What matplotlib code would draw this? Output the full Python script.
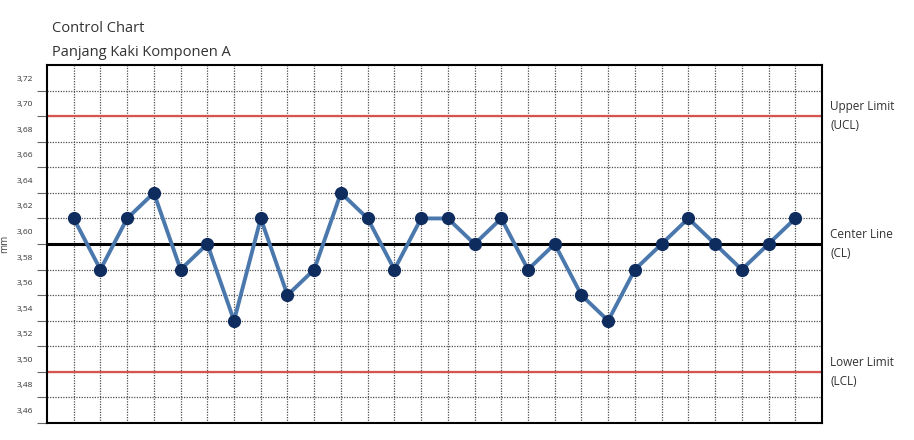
import matplotlib.pyplot as plt
import matplotlib.transforms as mtransforms

# sample values (mm)
samples = list(range(1, 29))
values = [3.62, 3.58, 3.62, 3.64, 3.58, 3.60, 3.54, 3.62, 3.56, 3.58,
          3.64, 3.62, 3.58, 3.62, 3.62, 3.60, 3.62, 3.58, 3.60, 3.56,
          3.54, 3.58, 3.60, 3.62, 3.60, 3.58, 3.60, 3.62]
ucl = 3.70
cl = 3.60
lcl = 3.50
yticks = [3.46, 3.48, 3.50, 3.52, 3.54, 3.56, 3.58, 3.60, 3.62, 3.64,
          3.66, 3.68, 3.70, 3.72]
ytick_labels = [("%.2f" % t).replace(".", ",") for t in yticks]
limit_labels = [(ucl, "Upper Limit\n(UCL)"), (cl, "Center Line\n(CL)"),
                (lcl, "Lower Limit\n(LCL)")]

plt.rcParams['font.family'] = ['Open Sans', 'DejaVu Sans']

fig = plt.figure(figsize=(9.14, 4.4), dpi=100)
ax = fig.add_axes([0.0514, 0.0386, 0.8479, 0.8137])

ax.set_xlim(0, 29)
ax.set_ylim(3.46, 3.74)

# grid
ax.set_xticks(samples)
ax.set_xticklabels([])
ax.set_yticks(yticks)
ax.set_yticklabels(ytick_labels, fontsize=6, color="#333333")
ax.grid(True, color="#4d4d4d", linestyle=(0, (1, 1.1)), linewidth=0.9)
ax.set_axisbelow(True)
ax.tick_params(axis="x", length=0)
ax.tick_params(axis="y", length=7, width=0.8, color="#666666", pad=3)
off = mtransforms.ScaledTranslation(0, 9 / 72, fig.dpi_scale_trans)
for lab in ax.get_yticklabels():
    lab.set_transform(lab.get_transform() + off)

for s in ax.spines.values():
    s.set_color("black")
    s.set_linewidth(1.5)

# control limits
ax.axhline(ucl, color="#d9534f", linewidth=1.6, zorder=2)
ax.axhline(lcl, color="#d9534f", linewidth=1.6, zorder=2)
ax.axhline(cl, color="black", linewidth=2.2, zorder=2)

# data
ax.plot(samples, values, color="#4a78ad", linewidth=2.8, zorder=3)
ax.plot(samples, values, linestyle="none", marker="o", markersize=8.5,
        color="#0f2c5e", zorder=4)

for yv, txt in limit_labels:
    ax.annotate(txt, xy=(1, yv), xycoords=("axes fraction", "data"),
                xytext=(6, 0), textcoords="offset points",
                ha="left", va="center", fontsize=8.5, color="#333333",
                linespacing=1.6)

ax.set_ylabel("mm", fontsize=7, color="#444444")
ax.yaxis.set_label_coords(-0.047, 0.5)

fig.text(52 / 914, 1 - 28 / 440, "Control Chart", fontsize=10.5,
         color="#333333", va="center", ha="left")
fig.text(52 / 914, 1 - 52 / 440, "Panjang Kaki Komponen A", fontsize=10.5,
         color="#333333", va="center", ha="left")

fig.savefig("out.png", dpi=100)
